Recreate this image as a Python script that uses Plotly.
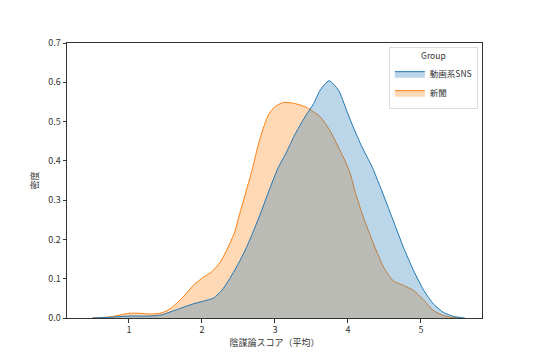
import plotly.graph_objects as go

# 動画系SNS density curve
sns_x = [0.5, 0.75, 1.0, 1.29, 1.45, 1.56, 1.74, 1.88, 2.02, 2.16, 2.27, 2.38, 2.52, 2.61,
         2.68, 2.81, 2.93, 3.04, 3.16, 3.27, 3.41, 3.53, 3.62, 3.74, 3.87, 3.98, 4.07,
         4.19, 4.33, 4.44, 4.62, 4.76, 4.90, 5.04, 5.17, 5.31, 5.45, 5.6]
sns_y = [0.0, 0.002, 0.005, 0.005, 0.008, 0.015, 0.027, 0.036, 0.043, 0.051, 0.07, 0.1,
         0.146, 0.18, 0.21, 0.27, 0.33, 0.381, 0.423, 0.466, 0.512, 0.546, 0.58, 0.604,
         0.58, 0.529, 0.487, 0.436, 0.385, 0.335, 0.248, 0.18, 0.12, 0.07, 0.036, 0.014,
         0.004, 0.0]

# 新聞 density curve
news_x = [0.5, 0.75, 1.0, 1.15, 1.29, 1.45, 1.56, 1.74, 1.88, 2.02, 2.13, 2.25, 2.38,
          2.45, 2.50, 2.59, 2.68, 2.77, 2.84, 2.91, 3.0, 3.12, 3.27, 3.41, 3.48, 3.62,
          3.75, 3.89, 3.96, 4.03, 4.10, 4.21, 4.35, 4.49, 4.62, 4.76, 4.90, 5.04, 5.17,
          5.31, 5.45, 5.55]
news_y = [0.0, 0.003, 0.012, 0.012, 0.01, 0.013, 0.023, 0.053, 0.083, 0.104, 0.117,
          0.142, 0.189, 0.22, 0.254, 0.313, 0.372, 0.44, 0.483, 0.517, 0.538, 0.549,
          0.546, 0.538, 0.531, 0.512, 0.478, 0.427, 0.4, 0.368, 0.32, 0.257, 0.189,
          0.129, 0.095, 0.083, 0.07, 0.045, 0.019, 0.006, 0.001, 0.0]

x_ticks = [1, 2, 3, 4, 5]
y_ticks = [0.0, 0.1, 0.2, 0.3, 0.4, 0.5, 0.6, 0.7]

FONT = "Noto Sans CJK JP, DejaVu Sans, sans-serif"

fig = go.Figure()
fig.add_trace(go.Scatter(
    x=news_x, y=news_y, name="新聞", mode="lines", fill="tozeroy",
    line=dict(color="#ff7f0e", width=1, shape="spline", smoothing=0.6),
    fillcolor="rgba(255,127,14,0.3)", legendrank=2))
fig.add_trace(go.Scatter(
    x=sns_x, y=sns_y, name="動画系SNS", mode="lines", fill="tozeroy",
    line=dict(color="#1f77b4", width=1, shape="spline", smoothing=0.6),
    fillcolor="rgba(31,119,180,0.3)", legendrank=1))

axis_common = dict(showline=True, mirror=True, linecolor="#333333", linewidth=1,
                   ticks="outside", ticklen=3.5, tickcolor="#333333", showgrid=False,
                   zeroline=False, automargin=False,
                   tickfont=dict(family=FONT, size=9, color="#333333"))

fig.update_layout(
    width=536, height=357,
    margin=dict(l=67, r=54, t=43, b=39),
    paper_bgcolor="white", plot_bgcolor="white",
    font=dict(family=FONT, size=9, color="#333333"),
    showlegend=True,
    legend=dict(
        title=dict(text="Group", side="top center", font=dict(size=8.5)),
        x=0.99, y=0.985, xanchor="right", yanchor="top",
        bordercolor="#dddddd", borderwidth=1, bgcolor="rgba(255,255,255,0.8)",
        font=dict(size=8.5), itemwidth=30, tracegroupgap=0),
    xaxis=dict(range=[0.151, 5.836], tickvals=x_ticks,
               title=dict(text="陰謀論スコア（平均）", font=dict(size=9), standoff=0),
               **axis_common),
    yaxis=dict(range=[0, 0.7], tickvals=y_ticks, tickformat=".1f",
               title=dict(text="密度", font=dict(size=9), standoff=8),
               **axis_common),
)

fig.write_html("out.html", config={"displayModeBar": False},
               post_script="document.body.style.margin='0';")
